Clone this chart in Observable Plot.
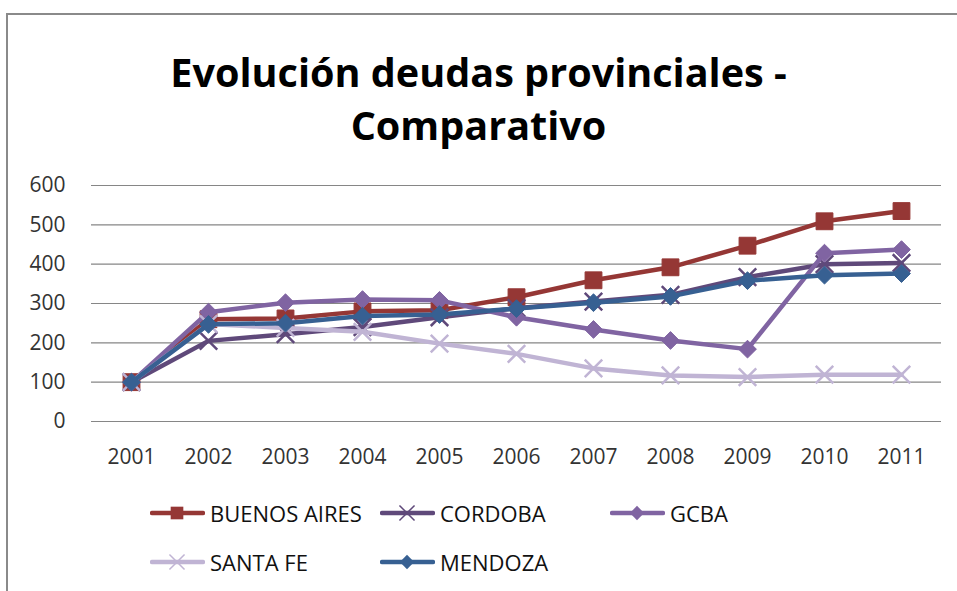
<!DOCTYPE html>
<html>
<head>
<meta charset="utf-8">
<script src="https://cdn.jsdelivr.net/npm/d3@7"></script>
<script src="https://cdn.jsdelivr.net/npm/@observablehq/plot@0.6"></script>
<style>
  html, body { margin: 0; padding: 0; background: #fff; }
  #wrap { position: relative; width: 957px; height: 591px; overflow: hidden; font-family: "Open Sans", sans-serif; }
  #frame { position: absolute; left: 6px; top: 13px; width: 1000px; height: 700px;
           border-top: 2px solid #8a8a8a; border-left: 2px solid #8a8a8a; pointer-events: none; }
  #title { position: relative; height: 160px; box-sizing: border-box; padding-top: 46px;
           text-align: center; font-weight: 700; font-size: 36px; line-height: 53px; color: #000; }
  #title span { display: inline-block; white-space: nowrap; }
  #chart svg { display: block; }
  .leg { position: absolute; height: 30px; display: flex; align-items: center;
         font-size: 22px; color: #111; white-space: nowrap; }
  .leg svg { display: block; margin-right: 5px; }
</style>
</head>
<body>
<div id="wrap">
  <div id="frame"></div>
  <div id="title"><span id="t1">Evolución deudas provinciales -</span><br><span id="t2">Comparativo</span></div>
  <div id="chart"></div>
  <div id="legend"></div>
</div>
<script>
// ---- data ----
const years = [2001, 2002, 2003, 2004, 2005, 2006, 2007, 2008, 2009, 2010, 2011];
const seriesNames = ["BUENOS AIRES", "CORDOBA", "GCBA", "SANTA FE", "MENDOZA"];
const buenosAires = [100, 260, 262, 280, 283, 316, 359, 392, 447, 509, 535];
const cordoba     = [100, 205, 222, 240, 265, 288, 305, 322, 367, 400, 403];
const gcba        = [100, 278, 302, 310, 308, 265, 234, 206, 184, 428, 437];
const santaFe     = [100, 248, 238, 228, 198, 172, 135, 117, 113, 119, 119];
const mendoza     = [100, 247, 250, 268, 272, 287, 302, 318, 358, 372, 376];
const yTicks = [0, 100, 200, 300, 400, 500, 600];

// ---- styles (kept apart from data) ----
const seriesValues = [buenosAires, cordoba, gcba, santaFe, mendoza];
const styles = [
  {color: "#953735", symbol: "square",   filled: true,  r: 9.5},
  {color: "#5f497a", symbol: "times",    filled: false, r: 8},
  {color: "#8064a2", symbol: "diamond2", filled: true,  r: 8},
  {color: "#c0b4d4", symbol: "times",    filled: false, r: 8},
  {color: "#376092", symbol: "diamond2", filled: true,  r: 8}
];

const table = [];
seriesNames.forEach((name, i) => {
  years.forEach((yr, j) => table.push({series: name, year: yr, value: seriesValues[i][j]}));
});

const seriesMarks = [];
seriesNames.forEach((name, i) => {
  const s = styles[i];
  const rows = table.filter(d => d.series === name);
  seriesMarks.push(Plot.line(rows, {x: "year", y: "value", stroke: s.color, strokeWidth: 4.5,
    strokeLinejoin: "round", strokeLinecap: "round"}));
  seriesMarks.push(Plot.dot(rows, s.filled
    ? {x: "year", y: "value", symbol: () => s.symbol, r: s.r, fill: s.color, stroke: s.color, strokeWidth: 1}
    : {x: "year", y: "value", symbol: () => s.symbol, r: s.r, stroke: s.color, strokeWidth: 2.5, fill: "none"}));
});

const chart = Plot.plot({
  width: 957,
  height: 431,
  marginTop: 25,
  marginBottom: 170,
  marginLeft: 91,
  marginRight: 16,
  style: {fontFamily: "Open Sans, sans-serif", fontSize: "21px", color: "#333", background: "transparent", overflow: "visible"},
  x: {type: "point", domain: years, padding: 0.5, label: null},
  y: {domain: [0, 600], label: null},
  symbol: {type: "identity"},
  marks: [
    Plot.ruleY(yTicks, {stroke: "#868686", strokeWidth: 1.2}),
    Plot.axisY(yTicks, {tickSize: 0, tickPadding: 26, label: null, fontSize: 21}),
    Plot.axisX(years, {tickSize: 0, tickPadding: 28, label: null, fontSize: 21, tickFormat: d => String(d)}),
    ...seriesMarks
  ]
});
document.getElementById("chart").appendChild(chart);

// ---- legend ----
const legendPos = [
  {left: 150, top: 498}, {left: 380, top: 498}, {left: 610, top: 498},
  {left: 150, top: 547}, {left: 380, top: 547}
];
const legend = document.getElementById("legend");
const symMap = {square: d3.symbolSquare, times: d3.symbolTimes, diamond2: d3.symbolDiamond2};
seriesNames.forEach((name, i) => {
  const s = styles[i];
  const div = document.createElement("div");
  div.className = "leg";
  div.style.left = legendPos[i].left + "px";
  div.style.top = legendPos[i].top + "px";
  const size = s.filled ? (s.symbol === "square" ? 160 : 130) : 150;
  const path = d3.symbol(symMap[s.symbol], size)();
  const mk = s.filled
    ? `<path d="${path}" transform="translate(27,15)" fill="${s.color}"/>`
    : `<path d="${path}" transform="translate(27,15)" fill="none" stroke="${s.color}" stroke-width="1.5"/>`;
  div.innerHTML = `<svg width="55" height="30"><line x1="2" x2="53" y1="15" y2="15" stroke="${s.color}" stroke-width="4.5" stroke-linecap="round"/>${mk}</svg><span>${name}</span>`;
  legend.appendChild(div);
});

// ---- fit title width to reference ----
const t1 = document.getElementById("t1");
const w = t1.getBoundingClientRect().width;
const target = 617;
const fs = 36 * target / w;
document.getElementById("title").style.fontSize = fs.toFixed(1) + "px";
</script>
</body>
</html>
